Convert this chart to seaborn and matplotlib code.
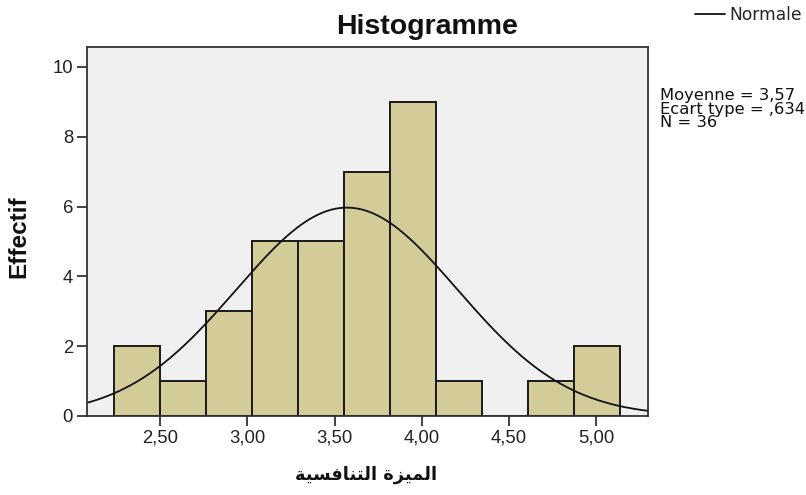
import numpy as np
import pandas as pd
import matplotlib
matplotlib.use("Agg")
import matplotlib.pyplot as plt
import seaborn as sns
from matplotlib.lines import Line2D
from matplotlib.ticker import FuncFormatter

# ---- data ----
bin_start = 2.2365
bin_width = 0.2635
counts = [2, 1, 3, 5, 5, 7, 9, 1, 0, 1, 2]
mean_val = 3.57
sd_val = 0.634
n_obs = 36
x_ticks = [2.5, 3.0, 3.5, 4.0, 4.5, 5.0]
y_ticks = [0, 2, 4, 6, 8, 10]
title_text = "Histogramme"
x_label = "الميزة التنافسية"
y_label = "Effectif"
legend_label = "Normale"
stats_lines = ["Moyenne = 3,57", "Ecart type = ,634", "N = 36"]

# ---- minimal Arabic shaping (contextual forms + visual order) ----
AR_FORMS = {
    "ا": ("\uFE8D", "\uFE8E", None, None),
    "ل": ("\uFEDD", "\uFEDE", "\uFEDF", "\uFEE0"),
    "م": ("\uFEE1", "\uFEE2", "\uFEE3", "\uFEE4"),
    "ي": ("\uFEF1", "\uFEF2", "\uFEF3", "\uFEF4"),
    "ز": ("\uFEAF", "\uFEB0", None, None),
    "ة": ("\uFE93", "\uFE94", None, None),
    "ت": ("\uFE95", "\uFE96", "\uFE97", "\uFE98"),
    "ن": ("\uFEE5", "\uFEE6", "\uFEE7", "\uFEE8"),
    "ف": ("\uFED1", "\uFED2", "\uFED3", "\uFED4"),
    "س": ("\uFEB1", "\uFEB2", "\uFEB3", "\uFEB4"),
}


def shape_arabic(s):
    out = []
    for i, ch in enumerate(s):
        if ch not in AR_FORMS:
            out.append(ch)
            continue
        iso, fin, ini, med = AR_FORMS[ch]
        prev = s[i - 1] if i > 0 else None
        nxt = s[i + 1] if i + 1 < len(s) else None
        jp = prev in AR_FORMS and AR_FORMS[prev][2] is not None
        jn = ini is not None and nxt in AR_FORMS
        if jp and jn:
            out.append(med)
        elif jp:
            out.append(fin)
        elif jn:
            out.append(ini)
        else:
            out.append(iso)
    return "".join(out)[::-1]


# ---- derived ----
edges = bin_start + bin_width * np.arange(len(counts) + 1)
centers = (edges[:-1] + edges[1:]) / 2
hist_df = pd.DataFrame({"value": centers, "count": counts})
x_lo, x_hi = 2.08, 5.296
xs = np.linspace(x_lo, x_hi, 400)
ys = n_obs * bin_width * np.exp(-0.5 * ((xs - mean_val) / sd_val) ** 2) / (sd_val * np.sqrt(2 * np.pi))
curve_df = pd.DataFrame({"x": xs, "y": ys})

sns.set_style("white")
plt.rcParams["font.family"] = ["Liberation Sans", "DejaVu Sans"]

W, H = 806, 495
fig = plt.figure(figsize=(W / 100, H / 100), dpi=100)
ax = fig.add_axes([87 / W, 1 - 416 / H, (648 - 87) / W, (416 - 47) / H])
ax.set_facecolor("#F0F0F0")

sns.histplot(data=hist_df, x="value", weights="count", bins=list(edges),
             color="#D3CC99", edgecolor="#1a1a1a", linewidth=1.4, alpha=1, ax=ax)
sns.lineplot(data=curve_df, x="x", y="y", color="#111111", linewidth=1.3, ax=ax)

ax.set_xlim(x_lo, x_hi)
ax.set_ylim(0, 10.57)
ax.set_xticks(x_ticks)
ax.set_yticks(y_ticks)
ax.xaxis.set_major_formatter(FuncFormatter(lambda v, p: f"{v:.2f}".replace(".", ",")))
ax.yaxis.set_major_formatter(FuncFormatter(lambda v, p: f"{int(round(v))}"))
ax.tick_params(direction="out", length=7, width=1.3, color="#333333",
               labelsize=13.3, labelcolor="#222222", pad=3)
ax.tick_params(axis="x", bottom=True)
ax.tick_params(axis="y", left=True)
for sp in ax.spines.values():
    sp.set_visible(True)
    sp.set_color("#333333")
    sp.set_linewidth(1.3)
ax.set_xlabel("")
ax.set_ylabel("")

fig.text(427.5 / W, 1 - 27 / H, title_text, ha="center", va="center",
         fontsize=20.5, fontweight="bold", color="#111111")
fig.text(19 / W, 1 - 237 / H, y_label, ha="center", va="center",
         rotation=90, fontsize=17.5, fontweight="bold", color="#111111")
fig.text(366 / W, 1 - 475 / H, shape_arabic(x_label), ha="center", va="center",
         fontsize=12.8, fontweight="bold", color="#111111", family="DejaVu Sans")

fig.text(660 / W, 1 - 88 / H, "\n".join(stats_lines), ha="left", va="top",
         fontsize=11.8, linespacing=0.88, color="#111111", family="DejaVu Sans")

handle = Line2D([], [], color="#111111", linewidth=1.3)
fig.legend(handles=[handle], labels=[legend_label], loc="upper left",
           bbox_to_anchor=(695 / W, 1 - 6 / H), frameon=False,
           prop={"family": "DejaVu Sans", "size": 12.3},
           handlelength=1.75, handletextpad=0.25,
           borderaxespad=0, borderpad=0)

fig.savefig("out.png", dpi=100)
